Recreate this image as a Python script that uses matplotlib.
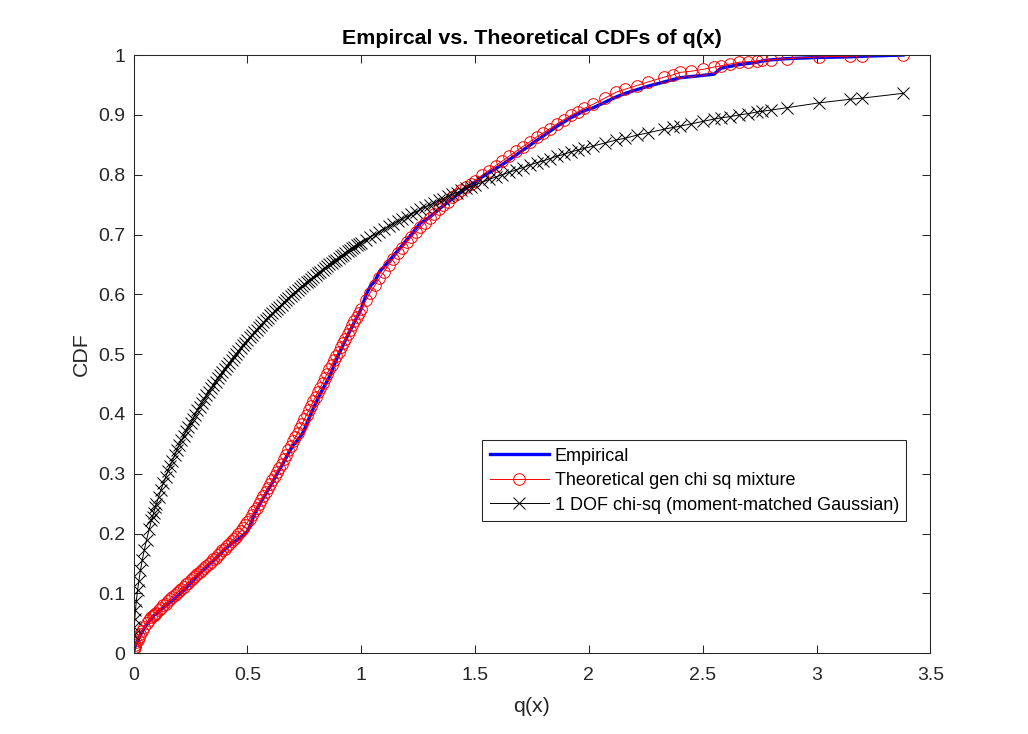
import matplotlib
matplotlib.use("Agg")
import matplotlib.pyplot as plt

# sorted sample positions q(x)
q = [
    0.0015, 0.003, 0.005, 0.008, 0.012, 0.017, 0.023, 0.030, 0.038, 0.047,
    0.057, 0.068, 0.078, 0.083, 0.088, 0.095,
    0.10, 0.11, 0.12, 0.13, 0.14, 0.15, 0.16, 0.17, 0.18, 0.19,
    0.20, 0.21, 0.22, 0.23, 0.24, 0.25, 0.26, 0.27, 0.28, 0.29,
    0.30, 0.31, 0.32, 0.33, 0.34, 0.35, 0.36, 0.37, 0.38, 0.39,
    0.40, 0.41, 0.42, 0.43, 0.44, 0.45, 0.46, 0.47, 0.48, 0.49,
    0.50, 0.51, 0.52, 0.53, 0.54, 0.55, 0.56, 0.57, 0.58, 0.59,
    0.60, 0.61, 0.62, 0.63, 0.64, 0.65, 0.66, 0.67, 0.68, 0.69,
    0.70, 0.71, 0.72, 0.73, 0.74, 0.75, 0.76, 0.77, 0.78, 0.79,
    0.80, 0.81, 0.82, 0.83, 0.84, 0.85, 0.86, 0.87, 0.88, 0.89,
    0.90, 0.91, 0.92, 0.93, 0.94, 0.95, 0.96, 0.97, 0.98, 0.99,
    1.00, 1.02, 1.04, 1.06, 1.08, 1.10, 1.12, 1.14, 1.16, 1.18,
    1.20, 1.22, 1.24, 1.26, 1.28, 1.30, 1.32, 1.34, 1.36, 1.38,
    1.40, 1.42, 1.44, 1.46, 1.48,
    1.50, 1.53, 1.56, 1.59, 1.62, 1.65, 1.68, 1.71, 1.74, 1.77,
    1.80, 1.83, 1.86, 1.89, 1.92, 1.95, 1.98,
    2.02, 2.07, 2.12, 2.16, 2.21, 2.26, 2.33, 2.37, 2.40, 2.45,
    2.50, 2.55, 2.58, 2.62, 2.66, 2.70, 2.74, 2.76, 2.80, 2.87,
    3.01, 3.146, 3.20, 3.38,
]

cdf_empirical = [
    0.004, 0.008, 0.010, 0.013, 0.017, 0.021, 0.026, 0.031, 0.036, 0.042,
    0.048, 0.053, 0.058, 0.060, 0.063, 0.065,
    0.066, 0.069, 0.073, 0.076, 0.079, 0.082, 0.085, 0.088, 0.091, 0.095,
    0.098, 0.102, 0.105, 0.109, 0.113, 0.117, 0.121, 0.125, 0.129, 0.133,
    0.137, 0.141, 0.144, 0.148, 0.151, 0.155, 0.158, 0.162, 0.166, 0.170,
    0.173, 0.177, 0.180, 0.183, 0.186, 0.188, 0.191, 0.194, 0.197, 0.200,
    0.204, 0.212, 0.222, 0.232, 0.240, 0.247, 0.253, 0.260, 0.266, 0.273,
    0.279, 0.286, 0.293, 0.300, 0.307, 0.313, 0.320, 0.327, 0.334, 0.341,
    0.347, 0.352, 0.356, 0.361, 0.366, 0.374, 0.383, 0.392, 0.401, 0.410,
    0.418, 0.426, 0.434, 0.441, 0.448, 0.455, 0.462, 0.471, 0.481, 0.490,
    0.499, 0.507, 0.515, 0.523, 0.531, 0.539, 0.546, 0.554, 0.561, 0.568,
    0.576, 0.598, 0.614, 0.622, 0.638, 0.646, 0.655, 0.664, 0.673, 0.682,
    0.691, 0.700, 0.710, 0.719, 0.724, 0.729, 0.735, 0.742, 0.748, 0.754,
    0.760, 0.766, 0.772, 0.777, 0.783,
    0.788, 0.796, 0.803, 0.810, 0.817, 0.825, 0.833, 0.841, 0.849, 0.857,
    0.865, 0.873, 0.881, 0.888, 0.895, 0.901, 0.907,
    0.912, 0.921, 0.930, 0.936, 0.942, 0.948, 0.955, 0.959, 0.962, 0.964,
    0.966, 0.968, 0.978, 0.981, 0.984, 0.986, 0.988, 0.990, 0.992, 0.994,
    0.996, 0.997, 0.998, 1.000,
]

cdf_mixture = [
    0.007, 0.009, 0.011, 0.014, 0.018, 0.022, 0.027, 0.032, 0.038, 0.044,
    0.050, 0.055, 0.060, 0.062, 0.064, 0.066,
    0.068, 0.072, 0.076, 0.080, 0.083, 0.087, 0.090, 0.094, 0.097, 0.101,
    0.104, 0.108, 0.111, 0.115, 0.118, 0.122, 0.125, 0.129, 0.132, 0.136,
    0.139, 0.143, 0.146, 0.150, 0.153, 0.157, 0.160, 0.164, 0.168, 0.172,
    0.175, 0.179, 0.183, 0.187, 0.191, 0.195, 0.200, 0.204, 0.209, 0.214,
    0.219, 0.225, 0.231, 0.237, 0.243, 0.249, 0.256, 0.263, 0.269, 0.276,
    0.283, 0.289, 0.296, 0.303, 0.310, 0.317, 0.324, 0.332, 0.339, 0.346,
    0.354, 0.361, 0.368, 0.376, 0.383, 0.391, 0.399, 0.406, 0.414, 0.422,
    0.429, 0.437, 0.444, 0.452, 0.460, 0.467, 0.475, 0.482, 0.490, 0.497,
    0.504, 0.512, 0.519, 0.526, 0.534, 0.541, 0.548, 0.555, 0.562, 0.569,
    0.576, 0.590, 0.603, 0.615, 0.627, 0.638, 0.649, 0.659, 0.669, 0.678,
    0.687, 0.696, 0.704, 0.712, 0.720, 0.727, 0.735, 0.742, 0.749, 0.755,
    0.762, 0.768, 0.774, 0.779, 0.785,
    0.790, 0.799, 0.807, 0.815, 0.823, 0.831, 0.839, 0.847, 0.855, 0.863,
    0.870, 0.877, 0.885, 0.892, 0.899, 0.905, 0.911,
    0.918, 0.928, 0.938, 0.943, 0.949, 0.955, 0.963, 0.967, 0.971, 0.973,
    0.976, 0.980, 0.982, 0.985, 0.988, 0.989, 0.990, 0.991, 0.992, 0.994,
    0.997, 0.998, 0.999, 1.000,
]

cdf_chisq1 = [
    0.031, 0.044, 0.057, 0.072, 0.088, 0.105, 0.121, 0.139, 0.156, 0.173,
    0.190, 0.207, 0.222, 0.228, 0.235, 0.244,
    0.250, 0.262, 0.273, 0.284, 0.294, 0.304, 0.313, 0.322, 0.331, 0.340,
    0.348, 0.356, 0.363, 0.371, 0.378, 0.385, 0.392, 0.399, 0.406, 0.412,
    0.419, 0.425, 0.431, 0.437, 0.443, 0.449, 0.454, 0.460, 0.465, 0.471,
    0.476, 0.481, 0.486, 0.491, 0.496, 0.501, 0.505, 0.510, 0.515, 0.519,
    0.524, 0.528, 0.532, 0.537, 0.541, 0.545, 0.549, 0.553, 0.557, 0.561,
    0.565, 0.568, 0.572, 0.576, 0.579, 0.583, 0.587, 0.590, 0.594, 0.597,
    0.601, 0.604, 0.607, 0.611, 0.614, 0.617, 0.620, 0.623, 0.626, 0.629,
    0.632, 0.635, 0.638, 0.641, 0.644, 0.647, 0.650, 0.653, 0.655, 0.658,
    0.661, 0.664, 0.666, 0.669, 0.672, 0.674, 0.677, 0.679, 0.682, 0.684,
    0.686, 0.691, 0.696, 0.700, 0.705, 0.709, 0.714, 0.718, 0.722, 0.726,
    0.730, 0.734, 0.738, 0.742, 0.746, 0.749, 0.753, 0.757, 0.760, 0.764,
    0.767, 0.770, 0.774, 0.777, 0.780,
    0.783, 0.787, 0.792, 0.796, 0.800, 0.804, 0.808, 0.812, 0.816, 0.820,
    0.823, 0.827, 0.831, 0.834, 0.838, 0.841, 0.844,
    0.848, 0.853, 0.858, 0.861, 0.866, 0.870, 0.876, 0.879, 0.881, 0.885,
    0.889, 0.893, 0.895, 0.897, 0.900, 0.902, 0.905, 0.906, 0.908, 0.912,
    0.920, 0.926, 0.928, 0.936,
]

x_ticks = [0, 0.5, 1, 1.5, 2, 2.5, 3, 3.5]
y_ticks = [0, 0.1, 0.2, 0.3, 0.4, 0.5, 0.6, 0.7, 0.8, 0.9, 1]

plt.rcParams["font.family"] = ["Liberation Sans", "DejaVu Sans"]
axis_grey = "#262626"

fig = plt.figure(figsize=(10.28, 7.34), dpi=100)
ax = fig.add_axes([0.13, 0.11, 0.775, 0.815])

ax.plot(q, cdf_empirical, color="#0000ff", lw=2.4, label="Empirical")
ax.plot(q, cdf_mixture, color="#ff0000", lw=0.7, marker="o", ms=8.4,
        mfc="none", mec="#ff0000", mew=0.7,
        label="Theoretical gen chi sq mixture")
ax.plot(q, cdf_chisq1, color="black", lw=0.7, marker="x", ms=8.4, mew=0.7,
        label="1 DOF chi-sq (moment-matched Gaussian)")

ax.set_xlim(0, 3.5)
ax.set_ylim(0, 1)
ax.set_xticks(x_ticks)
ax.set_xticklabels([f"{t:g}" for t in x_ticks])
ax.set_yticks(y_ticks)
ax.set_yticklabels([f"{t:g}" for t in y_ticks])
ax.tick_params(direction="in", length=6, width=0.75, colors=axis_grey,
               labelsize=14, top=True, right=True, pad=6)
ax.tick_params(axis="x", pad=10)
for s in ax.spines.values():
    s.set_color(axis_grey)
    s.set_linewidth(0.75)

ax.set_xlabel("q(x)", fontsize=15.4, color=axis_grey, labelpad=9)
ax.set_ylabel("CDF", fontsize=15.4, color=axis_grey, labelpad=5)
ax.set_title("Empircal vs. Theoretical CDFs of q(x)", fontsize=15.4,
             fontweight="bold", pad=8)

leg = ax.legend(loc="upper left", bbox_to_anchor=(482 / 1028, 1 - 440 / 734),
                bbox_transform=fig.transFigure, borderaxespad=0,
                fontsize=13, handlelength=3.3, handletextpad=0.3,
                labelspacing=0.42, borderpad=0.42, fancybox=False,
                framealpha=1, edgecolor=axis_grey)
leg.get_frame().set_linewidth(0.75)

fig.savefig("out.png", dpi=100)
